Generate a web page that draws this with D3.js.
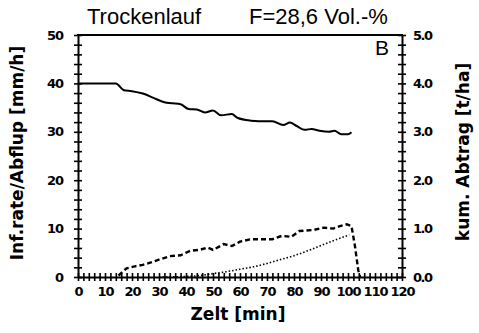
<!DOCTYPE html>
<html><head><meta charset="utf-8">
<script src="https://cdn.jsdelivr.net/npm/d3@7"></script>
<style>body{margin:0;background:#fff}svg{display:block}</style></head>
<body><svg id="c" width="479" height="333"></svg>
<script>
// ---- data ----
const infTime = [0, 14, 17, 20, 24, 28, 32, 35, 38, 41, 44, 47, 50, 53, 57, 59, 64, 67, 72, 76, 78.5, 81, 84, 86.5, 89.5, 93, 95, 97.5, 100, 101.3];
const infRate = [40, 40, 38.6, 38.4, 37.9, 37.0, 36.1, 35.9, 35.7, 34.7, 34.6, 34.0, 34.4, 33.4, 33.7, 32.9, 32.3, 32.2, 32.2, 31.4, 31.9, 31.2, 30.4, 30.6, 30.2, 30.0, 30.2, 29.5, 29.5, 29.9];
const roTime = [15, 18, 21, 24, 27, 30, 34, 38, 41.5, 45, 48, 50, 54, 57, 60, 64, 68.5, 72, 75.5, 79, 82, 87, 91, 94.5, 97, 99.5, 101.3, 102.6, 103.8, 104.5];
const roVal  = [0.3, 1.8, 2.2, 2.5, 3.0, 3.6, 4.3, 4.5, 5.4, 5.6, 6.1, 5.6, 6.8, 6.4, 7.3, 7.8, 7.8, 7.8, 8.5, 8.3, 9.5, 9.7, 10.2, 10.0, 10.5, 10.9, 10.5, 6.3, 1.4, 0];
const soilTime = [30, 40, 45, 50, 55, 60, 65, 70, 75, 80, 85, 90, 95, 100.5];
const soilVal  = [0, 0.01, 0.03, 0.07, 0.11, 0.16, 0.21, 0.28, 0.36, 0.44, 0.54, 0.65, 0.76, 0.87];
const xTicks = [0, 10, 20, 30, 40, 50, 60, 70, 80, 90, 100, 110, 120];
const yLeftTicks = [0, 10, 20, 30, 40, 50];
const yRightTicks = [0, 1, 2, 3, 4, 5];
const titleLeft = "Trockenlauf", titleRight = "F=28,6 Vol.-%";

// ---- layout ----
const svg = d3.select("#c");
const L = 78, R = 402, T = 35, B = 277;
const x = d3.scaleLinear([0, 120], [L, R]);
const yL = d3.scaleLinear([0, 50], [B, T]);
const yR = d3.scaleLinear([0, 5], [B, T]);
const tickFont = "'DejaVu Sans', sans-serif";

// frame top line
svg.append("line").attr("x1", L - 1).attr("x2", R + 1).attr("y1", T).attr("y2", T)
  .attr("stroke", "#000").attr("stroke-width", 2);

function crossTicks(g, orient) {
  g.select(".domain").attr("stroke-width", 2);
  g.selectAll(".tick line").attr("stroke-width", 1.6).attr("stroke", "#000");
  if (orient === "x") g.selectAll(".tick line").attr("y1", -4).attr("y2", 4);
  else g.selectAll(".tick line").attr("x1", -4).attr("x2", 4);
}

// X axis
const gx = svg.append("g").attr("transform", `translate(0,${B})`)
  .call(d3.axisBottom(x).tickValues(d3.range(0, 121, 2)).tickSize(3).tickFormat("").tickSizeOuter(0));
crossTicks(gx, "x");
const gxl = svg.append("g").attr("transform", `translate(0,${B})`)
  .call(d3.axisBottom(x).tickValues(xTicks).tickSize(0).tickPadding(10).tickFormat(d3.format("d")));
gxl.select(".domain").remove();
gxl.selectAll("text").attr("font-family", tickFont).attr("font-weight", "bold")
  .attr("font-size", 13).attr("letter-spacing", -1).attr("fill", "#000");

// Left axis
const gy = svg.append("g").attr("transform", `translate(${L},0)`)
  .call(d3.axisLeft(yL).tickValues(d3.range(0, 51, 2)).tickSize(3).tickFormat("").tickSizeOuter(0));
crossTicks(gy, "y");
const gyl = svg.append("g").attr("transform", `translate(${L},0)`)
  .call(d3.axisLeft(yL).tickValues(yLeftTicks).tickSize(0).tickPadding(15).tickFormat(d3.format("d")));
gyl.select(".domain").remove();
gyl.selectAll("text").attr("font-family", tickFont).attr("font-weight", "bold")
  .attr("font-size", 13).attr("letter-spacing", -1).attr("fill", "#000");

// Right axis
const gr = svg.append("g").attr("transform", `translate(${R},0)`)
  .call(d3.axisRight(yR).tickValues(d3.range(0, 5.01, 0.2)).tickSize(3).tickFormat("").tickSizeOuter(0));
crossTicks(gr, "y");
const grl = svg.append("g").attr("transform", `translate(${R},0)`)
  .call(d3.axisRight(yR).tickValues(yRightTicks).tickSize(0).tickPadding(11).tickFormat(d3.format(".1f")));
grl.select(".domain").remove();
grl.selectAll("text").attr("font-family", tickFont).attr("font-weight", "bold")
  .attr("font-size", 13).attr("letter-spacing", -1.5).attr("fill", "#000");

// lines
const infData = infTime.map((t, i) => [t, infRate[i]]);
const roData = roTime.map((t, i) => [t, roVal[i]]);
const soilData = soilTime.map((t, i) => [t, soilVal[i]]);
const lineL = d3.line().x(d => x(d[0])).y(d => yL(d[1])).curve(d3.curveMonotoneX);
const lineR = d3.line().x(d => x(d[0])).y(d => yR(d[1])).curve(d3.curveMonotoneX);
svg.append("path").datum(infData).attr("d", lineL).attr("fill", "none")
  .attr("stroke", "#000").attr("stroke-width", 2);
svg.append("path").datum(roData).attr("d", d3.line().x(d => x(d[0])).y(d => yL(d[1])))
  .attr("fill", "none").attr("stroke", "#000").attr("stroke-width", 2.4).attr("stroke-dasharray", "5,3");
svg.append("path").datum(soilData).attr("d", lineR).attr("fill", "none")
  .attr("stroke", "#000").attr("stroke-width", 1.6).attr("stroke-dasharray", "1.5,2");

// titles
svg.append("text").attr("x", 87).attr("y", 24).text(titleLeft)
  .attr("font-family", "'Liberation Sans', Arial, sans-serif").attr("font-size", 22);
svg.append("text").attr("x", 249).attr("y", 24).text(titleRight)
  .attr("font-family", "'Liberation Sans', Arial, sans-serif").attr("font-size", 22);
svg.append("text").attr("x", 375).attr("y", 55).text("B")
  .attr("font-family", "'Liberation Sans', Arial, sans-serif").attr("font-size", 21);

// axis titles
const titleFont = "'DejaVu Sans', sans-serif";
svg.append("text").attr("transform", "translate(23,153) rotate(-90)").attr("text-anchor", "middle")
  .attr("font-family", titleFont).attr("font-weight", "bold").attr("font-size", 17)
  .text("Inf.rate/Abflup [mm/h]");
svg.append("text").attr("transform", "translate(469,152) rotate(-90)").attr("text-anchor", "middle")
  .attr("font-family", titleFont).attr("font-weight", "bold").attr("font-size", 17)
  .text("kum. Abtrag [t/ha]");
svg.append("text").attr("x", 238).attr("y", 320).attr("text-anchor", "middle")
  .attr("font-family", titleFont).attr("font-weight", "bold").attr("font-size", 17)
  .text("Zelt [min]");
</script></body></html>
